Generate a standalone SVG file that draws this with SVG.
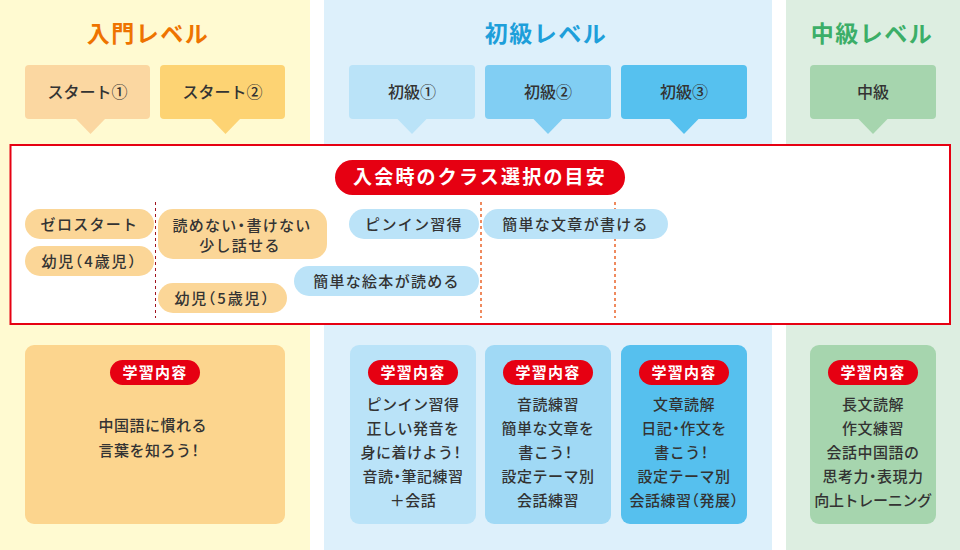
<svg xmlns="http://www.w3.org/2000/svg" width="960" height="550" viewBox="0 0 960 550">
<style>
text{font-family:"Noto Sans CJK JP","Noto Sans",sans-serif;fill:#333;}
.h{font-feature-settings:"halt";}
.title{font-size:23px;font-weight:bold;letter-spacing:1.5px;text-anchor:middle;}
.tb{font-size:16px;text-anchor:middle;font-weight:500;}
.pill{font-size:15px;text-anchor:middle;letter-spacing:1.3px;font-weight:500;}
.body{font-size:15px;text-anchor:middle;letter-spacing:0.5px;font-weight:500;}
.badge{fill:#E60012;}
.badgeT{font-size:15px;font-weight:bold;fill:#fff;text-anchor:middle;letter-spacing:1.2px;}
.y{fill:#FBD697;}
.b{fill:#BBE3F8;}
.dash1{stroke:#A0141E;stroke-width:1;stroke-dasharray:3 3;fill:none;}
.dash2{stroke:#EF8A5E;stroke-width:2;stroke-dasharray:3 3;fill:none;}
</style>
<rect x="0" y="0" width="960" height="550" fill="#fff"/>
<rect x="0" y="0" width="310" height="550" fill="#FFFAD1"/>
<rect x="324" y="0" width="448" height="550" fill="#DDF0FB"/>
<rect x="786" y="0" width="174" height="550" fill="#DDEEE1"/>

<g id="title-nyumon"><text class="title" x="148" y="42" style="fill:#EE7300">入門レベル</text></g>
<g id="title-shokyu"><text class="title" x="546" y="42" style="fill:#1E9FDA">初級レベル</text></g>
<g id="title-chukyu"><text class="title" x="872" y="42" style="fill:#3CAE68">中級レベル</text></g>

<g id="start1"><rect x="25" y="65" width="125" height="54" rx="4" fill="#FBD7A1"/><polygon points="76,119 105,119 90.5,134" fill="#FBD7A1"/><text class="tb" x="87.5" y="98">スタート①</text></g>
<g id="start2"><rect x="160" y="65" width="125" height="54" rx="4" fill="#FDD373"/><polygon points="211,119 240,119 225.5,134" fill="#FDD373"/><text class="tb" x="222.5" y="98">スタート②</text></g>
<g id="shokyu1"><rect x="349" y="65" width="126" height="54" rx="4" fill="#BAE3F8"/><polygon points="397.5,119 426.5,119 412,134" fill="#BAE3F8"/><text class="tb" x="412" y="98">初級①</text></g>
<g id="shokyu2"><rect x="485" y="65" width="126" height="54" rx="4" fill="#81CEF3"/><polygon points="533.5,119 562.5,119 548,134" fill="#81CEF3"/><text class="tb" x="548" y="98">初級②</text></g>
<g id="shokyu3"><rect x="621" y="65" width="126" height="54" rx="4" fill="#56C1EF"/><polygon points="669.5,119 698.5,119 684,134" fill="#56C1EF"/><text class="tb" x="684" y="98">初級③</text></g>
<g id="chukyu"><rect x="810" y="65" width="126" height="54" rx="4" fill="#A6D5AE"/><polygon points="858.5,119 887.5,119 873,134" fill="#A6D5AE"/><text class="tb" x="873" y="98">中級</text></g>

<g id="guide">
<rect x="10.5" y="145" width="939.5" height="179" fill="#fff" stroke="#E60012" stroke-width="2"/>
<rect x="335" y="160" width="290" height="35" rx="17.5" fill="#E60012"/>
<text x="480" y="184" style="font-size:19px;font-weight:bold;fill:#fff;text-anchor:middle;letter-spacing:2.2px">入会時のクラス選択の目安</text>
</g>

<g id="connectors">
<line class="dash1" x1="155.5" y1="202" x2="155.5" y2="318"/>
<line class="dash2" x1="481" y1="202" x2="481" y2="318"/>
<line class="dash2" x1="615" y1="202" x2="615" y2="318"/>
</g>

<g id="pill-zero"><rect class="y" x="25" y="209" width="129" height="30" rx="15"/><text class="pill" x="89.5" y="229.5">ゼロスタート</text></g>
<g id="pill-4"><rect class="y" x="25" y="246" width="129" height="30" rx="15"/><text class="pill h" x="89.5" y="266.5" style="letter-spacing:1.8px">幼児（4歳児）</text></g>
<g id="pill-yomenai"><rect class="y" x="158" y="209" width="169" height="50" rx="15"/><text class="pill h" x="242" y="230.5">読めない・書けない</text><text class="pill" x="240" y="251">少し話せる</text></g>
<g id="pill-5"><rect class="y" x="158" y="283" width="129" height="30" rx="15"/><text class="pill h" x="222.5" y="303.5" style="letter-spacing:1.8px">幼児（5歳児）</text></g>
<g id="pill-ehon"><rect class="b" x="294" y="266" width="185" height="30" rx="15"/><text class="pill" x="386.5" y="286.5">簡単な絵本が読める</text></g>
<g id="pill-pinyin"><rect class="b" x="349" y="209" width="130" height="30" rx="15"/><text class="pill" x="414" y="229.5">ピンイン習得</text></g>
<g id="pill-bunsho"><rect class="b" x="483" y="209" width="185" height="30" rx="15"/><text class="pill" x="575.5" y="229.5">簡単な文章が書ける</text></g>

<g id="content-nyumon">
<rect x="25" y="345" width="260" height="179" rx="9" fill="#FCD58E"/>
<rect class="badge" x="110" y="360" width="90" height="25" rx="12.5"/><text class="badgeT" x="155" y="378">学習内容</text>
<text class="body" x="98.5" y="431" style="text-anchor:start">中国語に慣れる</text>
<text class="body h" x="98.5" y="456" style="text-anchor:start">言葉を知ろう！</text>
</g>
<g id="content-shokyu1">
<rect x="350" y="345" width="126" height="179" rx="9" fill="#BAE3F8"/>
<rect class="badge" x="368" y="360" width="90" height="25" rx="12.5"/><text class="badgeT" x="413" y="378">学習内容</text>
<text class="body" x="413" y="410">ピンイン習得</text>
<text class="body" x="413" y="434">正しい発音を</text>
<text class="body h" x="411" y="458">身に着けよう！</text>
<text class="body h" x="413" y="482">音読・筆記練習</text>
<text class="body" x="413" y="506">＋会話</text>
</g>
<g id="content-shokyu2">
<rect x="485" y="345" width="126" height="179" rx="9" fill="#A0D9F5"/>
<rect class="badge" x="503" y="360" width="90" height="25" rx="12.5"/><text class="badgeT" x="548" y="378">学習内容</text>
<text class="body" x="548" y="410">音読練習</text>
<text class="body" x="548" y="434">簡単な文章を</text>
<text class="body h" x="545.5" y="458">書こう！</text>
<text class="body" x="548" y="482">設定テーマ別</text>
<text class="body" x="548" y="506">会話練習</text>
</g>
<g id="content-shokyu3">
<rect x="621" y="345" width="126" height="179" rx="9" fill="#56C0EE"/>
<rect class="badge" x="639" y="360" width="90" height="25" rx="12.5"/><text class="badgeT" x="684" y="378">学習内容</text>
<text class="body" x="684" y="410">文章読解</text>
<text class="body h" x="684" y="434">日記・作文を</text>
<text class="body h" x="681.5" y="458">書こう！</text>
<text class="body" x="684" y="482">設定テーマ別</text>
<text class="body h" x="684" y="506">会話練習（発展）</text>
</g>
<g id="content-chukyu">
<rect x="810" y="345" width="126" height="179" rx="9" fill="#A6D5AE"/>
<rect class="badge" x="828" y="360" width="90" height="25" rx="12.5"/><text class="badgeT" x="873" y="378">学習内容</text>
<text class="body" x="873" y="410">長文読解</text>
<text class="body" x="873" y="434">作文練習</text>
<text class="body" x="873" y="458">会話中国語の</text>
<text class="body h" x="873" y="482">思考力・表現力</text>
<text class="body" x="873" y="506" style="letter-spacing:-0.3px">向上トレーニング</text>
</g>
</svg>
